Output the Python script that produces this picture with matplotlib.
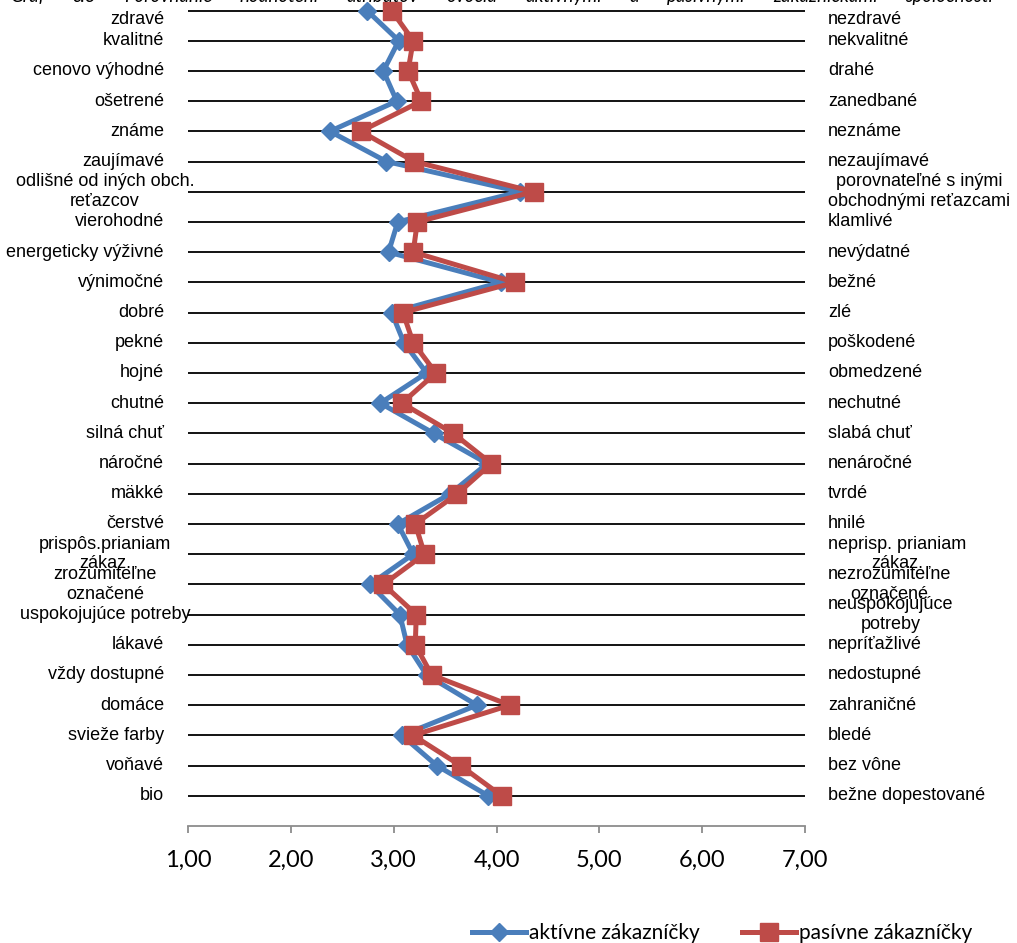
"""Porovnanie hodnotení atribútov ovocia — aktívne vs. pasívne zákazníčky."""

import matplotlib
matplotlib.use("Agg")
import matplotlib.pyplot as plt

left_labels = [
    "zdravé", "kvalitné", "cenovo výhodné", "ošetrené", "známe", "zaujímavé",
    "odlišné od iných obch.\nreťazcov", "vierohodné", "energeticky výživné",
    "výnimočné", "dobré", "pekné", "hojné", "chutné", "silná chuť", "náročné",
    "mäkké", "čerstvé", "prispôs.prianiam\nzákaz.", "zrozumiteľne\noznačené",
    "uspokojujúce potreby", "lákavé", "vždy dostupné", "domáce",
    "svieže farby", "voňavé", "bio",
]
right_labels = [
    "nezdravé", "nekvalitné", "drahé", "zanedbané", "neznáme", "nezaujímavé",
    "porovnateľné s inými\nobchodnými reťazcami", "klamlivé", "nevýdatné",
    "bežné", "zlé", "poškodené", "obmedzené", "nechutné", "slabá chuť",
    "nenáročné", "tvrdé", "hnilé", "neprisp. prianiam\nzákaz.",
    "nezrozumiteľne\noznačené", "neuspokojujúce\npotreby", "nepríťažlivé",
    "nedostupné", "zahraničné", "bledé", "bez vône", "bežne dopestované",
]
aktivne = [2.74, 3.05, 2.90, 3.03, 2.38, 2.93, 4.23, 3.04, 2.95, 4.04, 2.98,
           3.10, 3.32, 2.87, 3.39, 3.91, 3.55, 3.04, 3.19, 2.77, 3.06, 3.13,
           3.32, 3.81, 3.08, 3.42, 3.92]
pasivne = [2.98, 3.19, 3.14, 3.27, 2.68, 3.20, 4.36, 3.23, 3.19, 4.18, 3.09,
           3.19, 3.41, 3.08, 3.58, 3.95, 3.62, 3.21, 3.30, 2.90, 3.22, 3.21,
           3.37, 4.13, 3.19, 3.65, 4.05]
x_ticks = [1, 2, 3, 4, 5, 6, 7]
title_words = ["Graf", "č.3", "Porovnanie", "hodnotení", "atribútov", "ovocia",
               "aktívnymi", "a", "pasívnymi", "zákazníčkami", "spoločnosti"]

BLUE = "#4A7EBB"
RED = "#BE4B48"
LABEL_FONT = "Liberation Sans"
NUM_FONT = "Lato"

W, H = 1017, 943
fig = plt.figure(figsize=(W / 100, H / 100), dpi=100)
fig.patch.set_facecolor("white")

# axes spans x 188..805 px, y from just above the top edge down to 826 px
ax = fig.add_axes([188 / W, 1 - 826 / H, 617 / W, (826 + 4.6) / H])
n = len(left_labels)
rows = list(range(n))
ax.set_xlim(1, 7)
ax.set_ylim(n, -0.5)

ax.hlines(rows, 1, 7, color="black", lw=1.3, zorder=1)
ax.plot(aktivne, rows, color=BLUE, lw=3.6, marker="D", ms=9,
        label="aktívne zákazníčky", zorder=3, clip_on=False)
ax.plot(pasivne, rows, color=RED, lw=3.6, marker="s", ms=13,
        label="pasívne zákazníčky", zorder=4, clip_on=False)

for s in ("left", "right", "top"):
    ax.spines[s].set_visible(False)
ax.spines["bottom"].set_color("#8C8C8C")
ax.spines["bottom"].set_linewidth(1.3)
ax.set_yticks([])
ax.set_xticks(x_ticks)
ax.set_xticklabels([f"{v:.2f}".replace(".", ",") for v in x_ticks],
                   fontfamily=NUM_FONT, fontsize=17)
ax.tick_params(axis="x", direction="out", length=5, width=1.3,
               color="#8C8C8C", pad=12)

ytr = ax.get_yaxis_transform()
for i, (lt, rt) in enumerate(zip(left_labels, right_labels)):
    va = "top" if i == 0 else "center"
    if "\n" in lt or len(lt) > 19:
        ax.text(-83 / 617, i, lt, transform=ytr, ha="center", va=va,
                multialignment="center", fontfamily=LABEL_FONT, fontsize=13)
    else:
        ax.text(-24 / 617, i, lt, transform=ytr, ha="right", va=va,
                fontfamily=LABEL_FONT, fontsize=13)
    ax.text(640 / 617, i, rt, transform=ytr, ha="left", va=va,
            multialignment="center", fontfamily=LABEL_FONT, fontsize=13)

# title sits mostly above the cropped top edge, justified across the width
renderer = fig.canvas.get_renderer()
word_texts = [fig.text(0, 1 - 2 / H, w, fontfamily=NUM_FONT, fontstyle="italic",
                       fontsize=13.5, va="baseline") for w in title_words]
widths = [t.get_window_extent(renderer).width for t in word_texts]
gap = (993 - 10 - sum(widths)) / (len(widths) - 1)
xpos = 10
for t, w in zip(word_texts, widths):
    t.set_x(xpos / W)
    xpos += w + gap

fig.legend(loc="center", bbox_to_anchor=(722 / W, 1 - 933 / H), ncol=2,
           frameon=False, prop={"family": NUM_FONT, "size": 15},
           handlelength=2.6, handletextpad=0.15, columnspacing=2.0,
           borderpad=0, borderaxespad=0)

fig.savefig("out.png", dpi=100)
